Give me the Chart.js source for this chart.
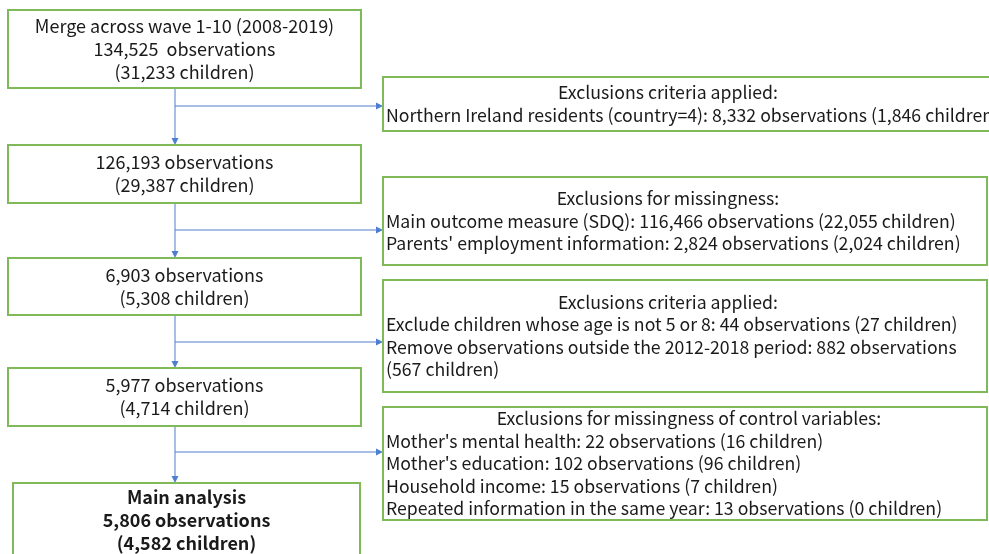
<!DOCTYPE html>
<html>
<head>
<meta charset="utf-8">
<script src="https://cdn.jsdelivr.net/npm/chart.js@4"></script>
<style>
  html, body { margin: 0; padding: 0; background: #fff; }
  canvas { display: block; }
</style>
</head>
<body>
<canvas id="flowChart" width="989" height="554"></canvas>
<script>
// FLOW DATA
const stageLabels = [
    ["Merge across wave 1-10 (2008-2019)", "134,525  observations", "(31,233 children)"],
    ["126,193 observations", "(29,387 children)"],
    ["6,903 observations", "(5,308 children)"],
    ["5,977 observations", "(4,714 children)"],
    ["Main analysis", "5,806 observations", "(4,582 children)"]
];
const exclHeaders = [
    "Exclusions criteria applied:",
    "Exclusions for missingness:",
    "Exclusions criteria applied:",
    "Exclusions for missingness of control variables:"
];
const exclLines = [
    ["Northern Ireland residents (country=4): 8,332 observations (1,846 children)"],
    ["Main outcome measure (SDQ): 116,466 observations (22,055 children)",
     "Parents' employment information: 2,824 observations (2,024 children)"],
    ["Exclude children whose age is not 5 or 8: 44 observations (27 children)",
     "Remove observations outside the 2012-2018 period: 882 observations",
     "(567 children)"],
    ["Mother's mental health: 22 observations (16 children)",
     "Mother's education: 102 observations (96 children)",
     "Household income: 15 observations (7 children)",
     "Repeated information in the same year: 13 observations (0 children)"]
];

// LAYOUT (chart units, x 0-989, y 0-554 downwards)
const stageBoxes = [[8, 10, 361, 88], [8, 145, 361, 203], [8, 258, 361, 315], [8, 368, 361, 426], [13, 483, 360, 562]];
const exclBoxes = [[383, 77, 995, 131], [383, 177, 987, 265], [383, 280, 987, 392], [383, 407, 987, 520]];
const exclHeaderX = [668, 668, 668, 689];
const branchY = [106, 230, 342, 452];
const spineX = 175;

const FONT = "'Noto Sans CJK SC', 'Noto Sans', sans-serif";
const GREEN = "#7fb95a";
const BLUE = "#4f7fcf";

const flowPlugin = {
    id: "flow",
    afterDraw(chart) {
        const ctx = chart.ctx;
        const sx = chart.scales.x, sy = chart.scales.y;
        const X = v => sx.getPixelForValue(v);
        const Y = v => sy.getPixelForValue(v);

        function box(b) {
            ctx.save();
            ctx.strokeStyle = GREEN;
            ctx.lineWidth = 2;
            ctx.strokeRect(X(b[0]), Y(b[1]), X(b[2]) - X(b[0]), Y(b[3]) - Y(b[1]));
            ctx.restore();
        }
        function arrow(x0, y0, x1, y1) {
            ctx.save();
            ctx.strokeStyle = BLUE;
            ctx.fillStyle = BLUE;
            ctx.lineWidth = 1;
            const ang = Math.atan2(Y(y1) - Y(y0), X(x1) - X(x0));
            const hx = X(x1) - 7 * Math.cos(ang), hy = Y(y1) - 7 * Math.sin(ang);
            ctx.beginPath();
            ctx.moveTo(X(x0), Y(y0));
            ctx.lineTo(hx, hy);
            ctx.stroke();
            ctx.beginPath();
            ctx.moveTo(X(x1), Y(y1));
            ctx.lineTo(hx - 3.5 * Math.sin(ang), hy + 3.5 * Math.cos(ang));
            ctx.lineTo(hx + 3.5 * Math.sin(ang), hy - 3.5 * Math.cos(ang));
            ctx.closePath();
            ctx.fill();
            ctx.restore();
        }

        ctx.save();
        ctx.fillStyle = "#fff";
        ctx.fillRect(0, 0, chart.width, chart.height);
        ctx.restore();

        // connectors
        stageBoxes.forEach((b, i) => {
            if (i === stageBoxes.length - 1) return;
            arrow(spineX, b[3], spineX, stageBoxes[i + 1][1]);
            arrow(spineX, branchY[i], exclBoxes[i][0], branchY[i]);
        });

        const lh = 23;
        ctx.textBaseline = "middle";
        ctx.fillStyle = "#1a1a1a";

        // main boxes
        stageBoxes.forEach((b, i) => {
            box(b);
            const lines = stageLabels[i];
            const last = i === stageBoxes.length - 1;
            ctx.font = (last ? "bold " : "") + "18px " + FONT;
            ctx.textAlign = "center";
            const cx = (X(b[0]) + X(b[2])) / 2;
            const top = last ? Y(b[1]) + 14 : (Y(b[1]) + Y(b[3])) / 2 - (lines.length - 1) * lh / 2;
            lines.forEach((t, k) => ctx.fillText(t, cx, top + k * lh));
        });

        // exclusion boxes
        exclBoxes.forEach((b, i) => {
            box(b);
            const lines = [exclHeaders[i]].concat(exclLines[i]);
            const h = 22.5;
            const top = (Y(b[1]) + Y(b[3])) / 2 - (lines.length - 1) * h / 2;
            ctx.font = "17.7px " + FONT;
            ctx.textAlign = "center";
            ctx.fillText(lines[0], X(exclHeaderX[i]), top);
            ctx.textAlign = "left";
            for (let k = 1; k < lines.length; k++) {
                ctx.fillText(lines[k], X(b[0]) + 3, top + k * h);
            }
        });
    }
};

new Chart(document.getElementById("flowChart"), {
    type: "scatter",
    data: { datasets: [{ data: [], pointRadius: 0 }] },
    options: {
        responsive: false,
        devicePixelRatio: 1,
        animation: false,
        layout: { padding: 0 },
        plugins: { legend: { display: false }, tooltip: { enabled: false } },
        scales: {
            x: { min: 0, max: 989, display: false },
            y: { min: 0, max: 554, reverse: true, display: false }
        }
    },
    plugins: [flowPlugin]
});
</script>
</body>
</html>
